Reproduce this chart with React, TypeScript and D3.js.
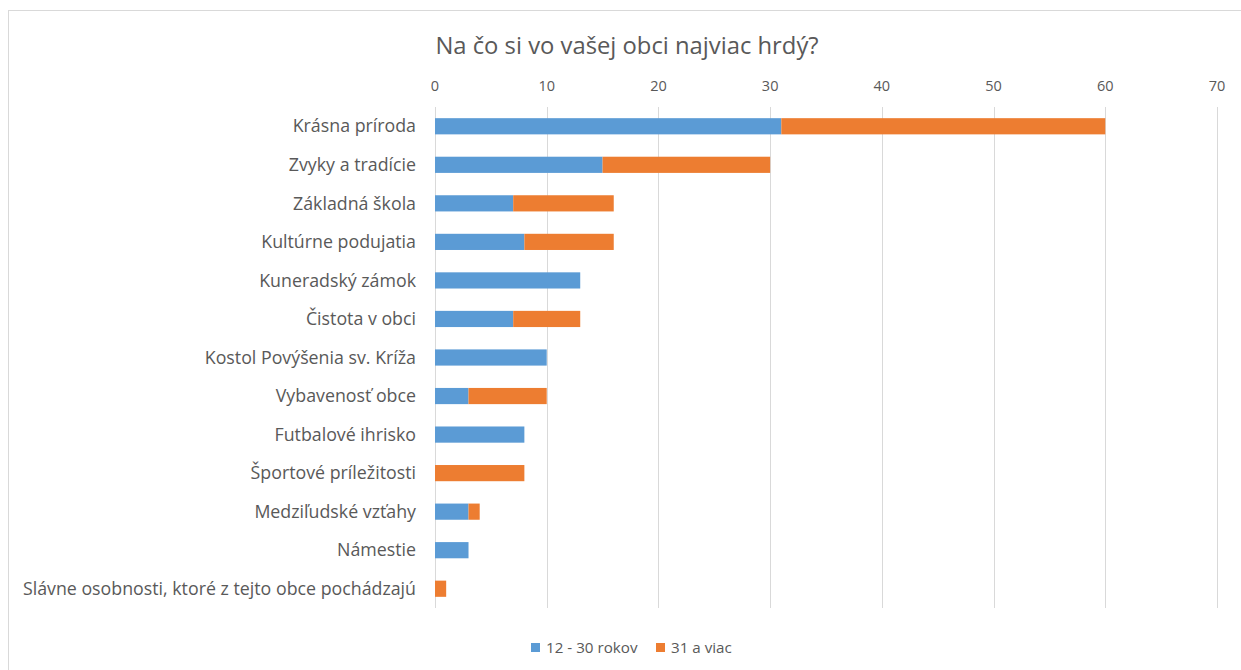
import * as d3 from "d3";
import { useEffect, useRef } from "react";

const categories = [
  "Krásna príroda",
  "Zvyky a tradície",
  "Základná škola",
  "Kultúrne podujatia",
  "Kuneradský zámok",
  "Čistota v obci",
  "Kostol Povýšenia sv. Kríža",
  "Vybavenosť obce",
  "Futbalové ihrisko",
  "Športové príležitosti",
  "Medziľudské vzťahy",
  "Námestie",
  "Slávne osobnosti, ktoré z tejto obce pochádzajú",
];
const young = [31, 15, 7, 8, 13, 7, 10, 3, 8, 0, 3, 3, 0];
const older = [29, 15, 9, 8, 0, 6, 0, 7, 0, 8, 1, 0, 1];
const seriesNames = ["12 - 30 rokov", "31 a viac"];
const xTicks = [0, 10, 20, 30, 40, 50, 60, 70];

export default function App() {
  const svgRef = useRef<SVGSVGElement>(null);

  useEffect(() => {
    if (!svgRef.current) return;
    const svg = d3.select(svgRef.current);
    svg.selectAll("*").remove();

    const width = 1241;
    const height = 670;
    const marginLeft = 435;
    const marginRight = 24;
    const marginTop = 107;
    const bottom = 608;
    const font = "'Open Sans', 'Liberation Sans', sans-serif";
    const colors = ["#5b9bd5", "#ed7d31"];

    const rows = categories.map((c, i) => ({ name: c, young: young[i], older: older[i] }));
    const stacked = d3.stack<any>().keys(["young", "older"])(rows);

    const x = d3.scaleLinear().domain([0, 70]).range([marginLeft, width - marginRight]);
    const y = d3.scaleBand().domain(categories).range([marginTop, bottom]).paddingInner(0.58).paddingOuter(0.29);

    svg.attr("width", width).attr("height", height).style("font-family", font);

    svg.append("rect")
      .attr("x", 8.5).attr("y", 10.5)
      .attr("width", width).attr("height", height)
      .attr("fill", "white").attr("stroke", "#d9d9d9");

    // gridlines
    svg.append("g")
      .selectAll("line")
      .data(xTicks)
      .join("line")
      .attr("x1", d => Math.round(x(d)) + 0.5)
      .attr("x2", d => Math.round(x(d)) + 0.5)
      .attr("y1", marginTop)
      .attr("y2", bottom)
      .attr("stroke", "#d9d9d9")
      .attr("stroke-width", 1);

    // tick labels
    svg.append("g")
      .selectAll("text")
      .data(xTicks)
      .join("text")
      .attr("x", d => x(d))
      .attr("y", 91)
      .attr("text-anchor", "middle")
      .attr("fill", "#595959")
      .attr("font-size", 14.5)
      .text(d => d);

    // bars
    svg.append("g")
      .selectAll("g")
      .data(stacked)
      .join("g")
      .attr("fill", (_, i) => colors[i])
      .selectAll("rect")
      .data(s => s.filter(d => d[1] - d[0] > 0))
      .join("rect")
      .attr("x", d => x(d[0]))
      .attr("y", d => y(d.data.name)!)
      .attr("width", d => x(d[1]) - x(d[0]))
      .attr("height", y.bandwidth());

    // category labels
    svg.append("g")
      .selectAll("text")
      .data(categories)
      .join("text")
      .attr("x", 416)
      .attr("y", d => y(d)! + y.bandwidth() / 2)
      .attr("dy", "0.35em")
      .attr("text-anchor", "end")
      .attr("fill", "#595959")
      .attr("font-size", 17.8)
      .text(d => d);

    // title
    svg.append("text")
      .attr("x", 627)
      .attr("y", 54)
      .attr("text-anchor", "middle")
      .attr("fill", "#595959")
      .attr("font-size", 23.8)
      .text("Na čo si vo vašej obci najviac hrdý?");

    // legend
    const legend = svg.append("g");
    const lx = [531, 656];
    seriesNames.forEach((n, i) => {
      legend.append("rect")
        .attr("x", lx[i]).attr("y", 643)
        .attr("width", 9).attr("height", 9)
        .attr("fill", colors[i]);
      legend.append("text")
        .attr("x", lx[i] + 15).attr("y", 653)
        .attr("fill", "#595959")
        .attr("font-size", 15.2)
        .text(n);
    });
  }, []);

  return (
    <div style={{ position: "fixed", left: 0, top: 0 }}>
      <svg ref={svgRef}></svg>
    </div>
  );
}
